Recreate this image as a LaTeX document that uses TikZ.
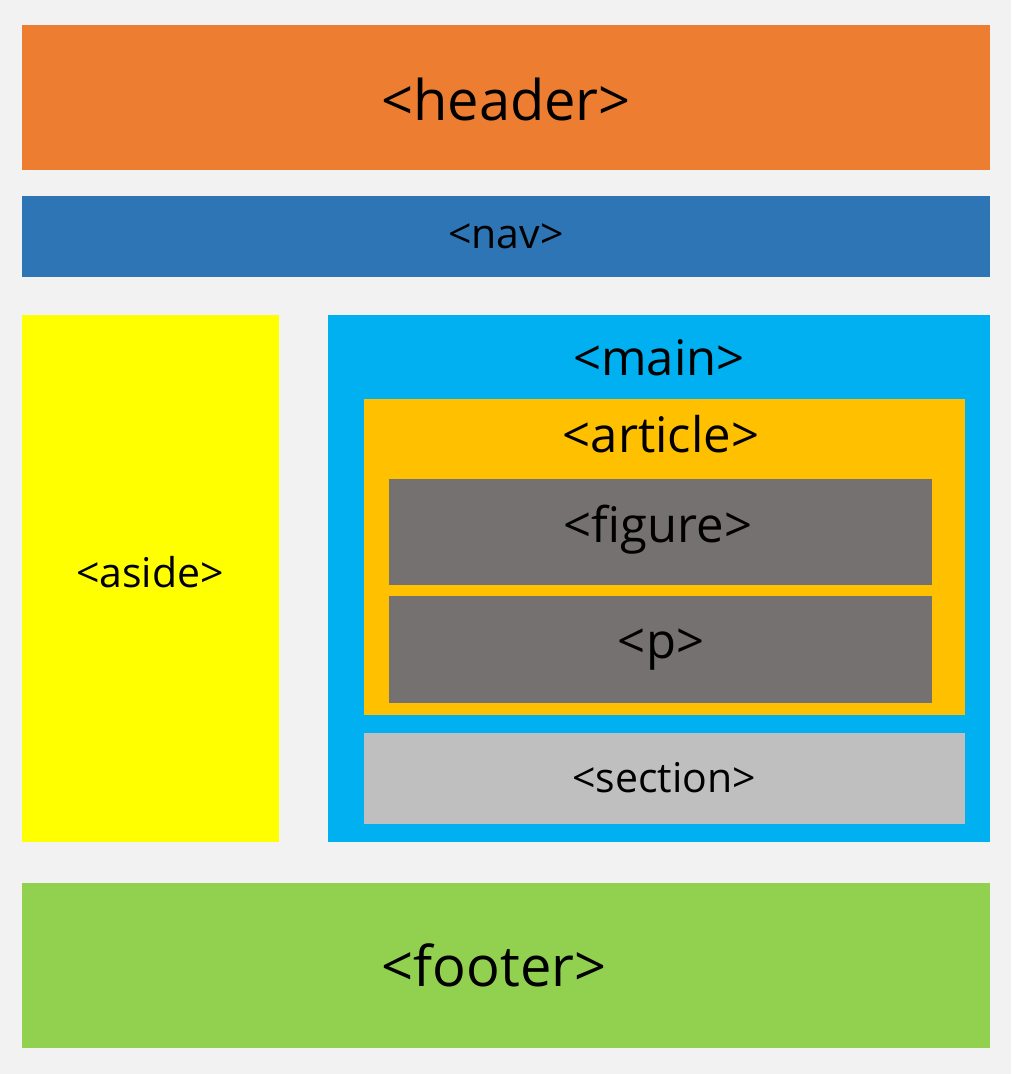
\documentclass[tikz,border=0pt]{standalone}
\usepackage{fontspec}
\setmainfont{Open Sans}
\definecolor{bg}{HTML}{F2F2F2}
\definecolor{hdr}{HTML}{ED7D31}
\definecolor{navc}{HTML}{2E75B6}
\definecolor{asidec}{HTML}{FFFF00}
\definecolor{mainc}{HTML}{00B0F0}
\definecolor{artc}{HTML}{FFC000}
\definecolor{figc}{HTML}{767171}
\definecolor{secc}{HTML}{BFBFBF}
\definecolor{footc}{HTML}{92D050}
\tikzset{
  blk/.style={fill=#1, draw=none},
  lbl/.style={inner sep=0pt, text=black, anchor=center},
  big/.style={lbl, font=\fontsize{28}{34}\selectfont},
  mid/.style={lbl, font=\fontsize{24.5}{30}\selectfont},
  sml/.style={lbl, font=\fontsize{20.5}{25}\selectfont},
}
\begin{document}
\begin{tikzpicture}[x=0.5pt,y=-0.5pt]
\fill[bg] (0,0) rectangle (1011,1074);
\useasboundingbox (0,0) rectangle (1011,1074);
\fill[hdr] (22,25) rectangle (990,170);
\node[big] (header) at (506,100) {<header>};
\fill[navc] (22,196) rectangle (990,277);
\node[sml] (nav) at (506,236) {<nav>};
\fill[asidec] (22,315) rectangle (279,842);
\node[sml] (aside) at (150,572) {<aside>};
\fill[mainc] (328,315) rectangle (990,842);
\node[mid] (main) at (659,358) {<main>};
\fill[artc] (364,399) rectangle (965,715);
\node[mid] (article) at (661,434) {<article>};
\fill[figc] (389,479) rectangle (932,585);
\node[mid] (figure) at (658,530) {<figure>};
\fill[figc] (389,596) rectangle (932,703);
\node[mid] (p) at (661,650) {<p>};
\fill[secc] (364,733) rectangle (965,824);
\node[sml] (section) at (664,778) {<section>};
\fill[footc] (22,883) rectangle (990,1048);
\node[big] (footer) at (494,965) {<footer>};
\end{tikzpicture}
\end{document}
